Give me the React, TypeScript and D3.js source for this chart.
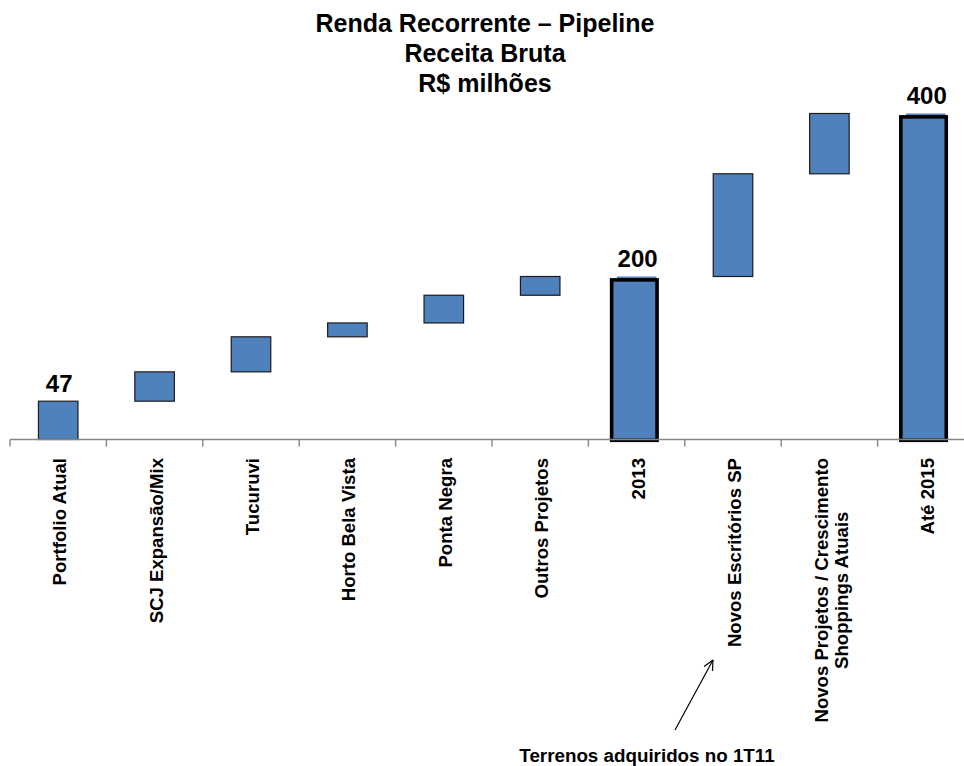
import React, { useEffect, useRef } from "react";
import * as d3 from "d3";

const categories = [
  "Portfolio Atual",
  "SCJ Expansão/Mix",
  "Tucuruvi",
  "Horto Bela Vista",
  "Ponta Negra",
  "Outros Projetos",
  "2013",
  "Novos Escritórios SP",
  "Novos Projetos / Crescimento\nShoppings Atuais",
  "Até 2015",
];
const deltas = [47, 36, 43, 17, 34, 23, 0, 126, 74, 0];
const isTotal = [true, false, false, false, false, false, true, false, false, true];
const outlinedTotal = [false, false, false, false, false, false, true, false, false, true];
const titleLines = ["Renda Recorrente – Pipeline", "Receita Bruta", "R$ milhões"];
const annotationText = "Terrenos adquiridos no 1T11";
const yDomain = [0, 400];

const FONT = "'Liberation Sans', Arial, Helvetica, sans-serif";
const BLUE = "#4F81BD";

export default function App() {
  const ref = useRef<SVGSVGElement | null>(null);

  useEffect(() => {
    document.body.style.margin = "0";
    const svg = d3.select(ref.current);
    svg.selectAll("*").remove();

    const W = 964;
    const axisY = 439.5;
    const y = d3.scaleLinear().domain(yDomain).range([axisY, 113.5]);
    const x = d3.scaleBand<string>().domain(categories).range([10, 974]).paddingInner(0).paddingOuter(0);
    const step = x.step();
    const barW = x.bandwidth() * 0.41;

    // waterfall data
    let running = 0;
    const bars = categories.map((c, i) => {
      running += deltas[i];
      const start = isTotal[i] ? 0 : running - deltas[i];
      const end = running;
      return { c, i, start, end, total: isTotal[i], outlined: outlinedTotal[i] };
    });

    // title
    const title = svg.append("g").attr("font-family", FONT).attr("font-weight", "bold").attr("font-size", 25).attr("fill", "#000");
    titleLines.forEach((t, i) => {
      title.append("text").attr("x", 485).attr("y", 32 + i * 30).attr("text-anchor", "middle").text(t);
    });

    // bars
    const g = svg.append("g");
    bars.forEach((b) => {
      const cx = (x(b.c) as number) + x.bandwidth() / 2;
      const bx = cx - barW / 2;
      g.append("rect")
        .attr("x", bx)
        .attr("y", y(b.end))
        .attr("width", barW)
        .attr("height", y(b.start) - y(b.end))
        .attr("fill", BLUE)
        .attr("stroke", b.outlined ? "none" : "#1b1b1b")
        .attr("stroke-width", 1.2);
      if (b.outlined) {
        const sw = 3.6;
        const left = bx - 7 + sw / 2;
        const right = bx + barW + 2.5 - sw / 2;
        const top = y(b.end) + 1.6 + sw / 2;
        const bottom = y(0) + 2.6 - sw / 2;
        g.append("rect")
          .attr("x", left)
          .attr("y", top)
          .attr("width", right - left)
          .attr("height", bottom - top)
          .attr("fill", BLUE)
          .attr("stroke", "#000")
          .attr("stroke-width", sw);
      }
      if (b.total) {
        g.append("text")
          .attr("x", cx + 1)
          .attr("y", y(b.end) - 9.5)
          .attr("text-anchor", "middle")
          .attr("font-family", FONT)
          .attr("font-weight", "bold")
          .attr("font-size", 24)
          .text(d3.format("d")(b.end));
      }
    });

    // axis
    const axis = svg.append("g");
    axis.append("line").attr("x1", 10).attr("x2", W + 10).attr("y1", axisY).attr("y2", axisY).attr("stroke", "#868686").attr("stroke-width", 1.6);
    d3.range(categories.length + 1).forEach((k) => {
      const tx = 10 + k * step;
      axis.append("line").attr("x1", tx).attr("x2", tx).attr("y1", axisY).attr("y2", axisY + 7).attr("stroke", "#868686").attr("stroke-width", 1.4);
    });

    // category labels
    const lab = svg.append("g").attr("font-family", FONT).attr("font-weight", "bold").attr("font-size", 18.6).attr("fill", "#000");
    categories.forEach((c) => {
      const cx = (x(c) as number) + x.bandwidth() / 2;
      const lines = c.split("\n");
      const top = 458;
      if (lines.length === 1) {
        lab.append("text")
          .attr("transform", `translate(${cx + 8},${top}) rotate(-90)`)
          .attr("text-anchor", "end")
          .text(lines[0]);
      } else {
        const t1 = lab.append("text")
          .attr("transform", `translate(${cx - 1},${top}) rotate(-90)`)
          .attr("text-anchor", "end")
          .text(lines[0]);
        const L = (t1.node() as SVGTextElement).getComputedTextLength();
        lab.append("text")
          .attr("transform", `translate(${cx + 19},${top + L / 2}) rotate(-90)`)
          .attr("text-anchor", "middle")
          .text(lines[1]);
      }
    });

    // annotation
    const ann = svg.append("g");
    const x1 = 675, y1 = 730, x2 = 713, y2 = 660;
    ann.append("line").attr("x1", x1).attr("y1", y1).attr("x2", x2).attr("y2", y2).attr("stroke", "#000").attr("stroke-width", 1.2);
    const ang = Math.atan2(y1 - y2, x1 - x2);
    [-0.45, 0.45].forEach((da) => {
      ann.append("line")
        .attr("x1", x2)
        .attr("y1", y2)
        .attr("x2", x2 + 11 * Math.cos(ang + da))
        .attr("y2", y2 + 11 * Math.sin(ang + da))
        .attr("stroke", "#000")
        .attr("stroke-width", 1.2);
    });
    ann.append("text")
      .attr("x", 647)
      .attr("y", 761.5)
      .attr("text-anchor", "middle")
      .attr("font-family", FONT)
      .attr("font-weight", "bold")
      .attr("font-size", 18.8)
      .text(annotationText);
  }, []);

  return <svg ref={ref} width={964} height={766} style={{ display: "block", background: "#fff" }} />;
}
